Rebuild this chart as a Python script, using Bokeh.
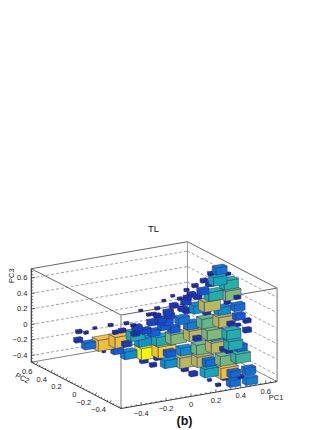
from bokeh.plotting import figure
from bokeh.embed import file_html
from bokeh.resources import INLINE
from bokeh.core.properties import value

TITLE = "TL"
PANEL = "(b)"
PC1_RANGE = (-0.562, 0.692)
PC2_RANGE = (-0.552, 0.668)
PC3_RANGE = (-0.486, 0.72)
PC1_TICKS = [-0.4, -0.2, 0, 0.2, 0.4, 0.6]
PC2_TICKS = [-0.4, -0.2, 0, 0.2, 0.4, 0.6]
PC3_TICKS = [-0.4, -0.2, 0, 0.2, 0.4, 0.6]
BIN = (0.145, 0.09, 0.15)

# boxes
pc1 = [.598,.538,.637,.565,.477,.618,.417,.507,.355,.445,.602,.501,.262,.371,.402,.343,.632,.295,.321,.564,.197,.451,.241,.614,
       .285,.138,.375,.518,.041,.308,.416,.196,.076,.110,.593,.126,.194,.394,.502,.634,.255,.165,.529,.079,-.074,.128,.298,-.172,-.038,-.269,.138,
       .020,-.025,.188,.611,.569,-.374,-.334,-.162,-.120,.062,-.049,-.049,.295,.402,.411,.509,.176,.299,.085,-.397,-.151,-.024,-.256,-.127,.494,
       -.349,.395,.529,.304,.430,.453,-.196,.197,.078,-.026,-.274,.106,-.138,.506,.412,.020,.276,.172,-.065,.077,-.020,.152,.524,.393,.289,.313,.428,.191,.458,.361,.505,.268,.401,.308]
pc2 = [.07,.09,.02,.04,.08,-.02,.10,.05,.11,.04,-.07,-.01,.14,.07,.04,.08,-.11,.10,.06,-.09,.15,-.04,.09,-.15,
       .05,.14,-.01,-.10,.20,.02,-.06,.09,.15,.14,-.20,.12,.07,-.10,-.15,-.24,0,.05,-.20,.11,.20,.08,-.05,.25,.17,.30,.05,
       .10,.14,0,-.28,-.23,.34,.31,.20,.18,.06,.12,.12,-.10,-.16,-.19,-.24,-.05,-.13,0,.31,.15,.06,.20,.11,-.29,
       .25,-.23,-.33,-.18,-.27,-.30,.12,-.13,-.05,0,.17,-.08,.06,-.37,-.32,-.06,-.24,-.18,-.02,-.12,-.07,-.21,-.45,-.37,-.31,-.27,-.41,-.26,-.45,-.40,-.50,-.35,-.45,-.40]
pc3 = [.681,.637,.639,.575,.568,.544,.510,.531,.465,.461,.439,.425,.400,.422,.401,.386,.403,.376,.344,.347,.352,.325,.306,.308,
       .274,.275,.286,.270,.243,.257,.244,.232,.206,.210,.214,.194,.200,.150,.165,.165,.165,.139,.136,.125,.111,.157,.114,.090,.089,.054,.087,
       .039,.071,.064,.071,.123,.018,.007,.019,.039,.026,.010,-.004,.022,.031,.009,.039,-.016,-.024,-.046,-.068,-.058,-.067,-.092,-.096,-.072,
       -.116,-.096,-.104,-.121,-.129,-.143,-.165,-.148,-.152,-.166,-.184,-.184,-.197,-.200,-.228,-.235,-.239,-.253,-.265,-.281,-.308,-.344,-.337,-.354,-.359,-.265,-.372,-.387,-.405,-.420,-.436,-.447,-.463,-.495]
content = [.22,.02,.01,.42,.03,.48,.02,.05,.01,.12,.62,.47,.005,.05,.05,.04,.02,.01,.08,.02,.005,.72,.05,.2,
           .05,.01,.33,.3,.005,.06,.04,.08,.01,.01,.14,.03,.08,.58,.72,.04,.22,.12,.04,.09,.01,.1,.25,.01,.01,.005,.14,
           .1,.08,.14,.05,.01,.02,.008,.02,.03,.15,.05,.45,.72,.62,.3,.47,.62,.05,.45,.05,.85,.33,.85,.07,.47,
           .2,.72,.17,.6,.04,.04,.14,.3,.9,1.0,.004,.14,.3,.52,.6,.03,.72,.72,.05,.32,.03,.03,.2,.85,.42,.2,.18,.05,.02,.03,.25,.006,.2,.012]

PALETTE = [(26,26,166),(15,92,221),(20,129,214),(6,164,202),(46,183,164),(135,191,119),(209,187,89),(254,200,50),(249,251,14)]


def px(a, b):
    return 149.9 + 124.5 * a - 73.5 * b


def py(a, b, c):
    return 337.3 - 21.5 * a - 38.0 * b - 77.5 * c


def colour(v, k=1.0):
    t = min(max(v, 0), 1) * (len(PALETTE) - 1)
    i = min(int(t), len(PALETTE) - 2)
    f = t - i
    r = [(PALETTE[i][n] * (1 - f) + PALETTE[i + 1][n] * f) * k for n in range(3)]
    return "#%02x%02x%02x" % tuple(int(x) for x in r)


p = figure(width=332, height=430, x_range=(0, 332), y_range=(430, 0), toolbar_location=None,
           output_backend="svg", min_border=0, outline_line_color=None)
p.axis.visible = False
p.grid.visible = False
p.background_fill_color = "white"
p.border_fill_color = "white"


def seg(points, color, width, dash="solid"):
    p.line([px(a, b) for a, b, c in points], [py(a, b, c) for a, b, c in points],
           line_color=color, line_width=width, line_dash=dash)


a0, a1 = PC1_RANGE
b0, b1 = PC2_RANGE
c0, c1 = PC3_RANGE

for z in PC3_TICKS:
    seg([(a0, b1, z), (a1, b1, z)], "#8c8c8c", 0.8, "3 2")
    seg([(a1, b1, z), (a1, b0, z)], "#8c8c8c", 0.8, "3 2")

seg([(a0, b1, c0), (a1, b1, c0), (a1, b0, c0)], "#666666", 0.8)
seg([(a0, b1, c0), (a0, b1, c1), (a1, b1, c1), (a1, b0, c1), (a0, b0, c1), (a0, b1, c1)], "#555555", 0.9)
seg([(a1, b1, c0), (a1, b1, c1)], "#999999", 1.0)
seg([(a0, b0, c0), (a0, b0, c1)], "#a0a0a0", 1.4)
seg([(a1, b0, c0), (a1, b0, c1)], "#999999", 1.4)
seg([(a0, b1, c0), (a0, b1, c1)], "#444444", 1.0)
seg([(a0, b1, c0), (a0, b0, c0), (a1, b0, c0)], "#222222", 0.9)

# axis ticks
xs, ys = [], []
v = -0.56
while v < 0.69:
    major = abs(round(v / 0.2) * 0.2 - v) < 1e-6
    L = 0.04 if major else 0.02
    xs.append([px(v, b0), px(v, b0)])
    ys.append([py(v, b0, c0), py(v, b0, c0 + L)])
    v += 0.04
v = -0.52
while v < 0.66:
    major = abs(round(v / 0.2) * 0.2 - v) < 1e-6
    L = 1.0 if major else 0.5
    xs.append([px(a0, v), px(a0 + 0.012 * L, v)])
    ys.append([py(a0, v, c0), py(a0 + 0.012 * L, v, c0 + 0.03 * L)])
    v += 0.04
v = -0.48
while v < 0.72:
    major = abs(round(v / 0.2) * 0.2 - v) < 1e-6
    L = 0.03 if major else 0.015
    xs.append([px(a0, b1), px(a0 + L, b1)])
    ys.append([py(a0, b1, v), py(a0 + L, b1, v)])
    v += 0.04
p.multi_line(xs, ys, line_color="#333333", line_width=0.7)

# boxes: lowest on the page first, and the larger boxes before the smaller ones
order = sorted(range(len(pc1)), key=lambda i: -py(pc1[i], pc2[i], pc3[i]) - 7 * content[i])
fx, fy, fc = [], [], []
for i in order:
    a, b, c, w = pc1[i], pc2[i], pc3[i], content[i]
    s = w ** (1 / 3)
    da, db, dc = BIN[0] * s / 2, BIN[1] * s / 2, BIN[2] * s / 2
    top = [(a - da, b - db, c + dc), (a + da, b - db, c + dc), (a + da, b + db, c + dc), (a - da, b + db, c + dc)]
    front = [(a - da, b - db, c - dc), (a + da, b - db, c - dc), (a + da, b - db, c + dc), (a - da, b - db, c + dc)]
    left = [(a - da, b + db, c - dc), (a - da, b - db, c - dc), (a - da, b - db, c + dc), (a - da, b + db, c + dc)]
    for face, k in ((left, 0.94), (front, 0.98), (top, 1.0)):
        fx.append([px(q[0], q[1]) for q in face])
        fy.append([py(q[0], q[1], q[2]) for q in face])
        fc.append(colour(w, k))
p.patches(fx, fy, fill_color=fc, line_color="#2c2c70", line_width=0.5)

FONT = value("Liberation Sans")


def labels(x, y, text, size="7.5px", align="center", xo=0, yo=0, angle=0, style="normal", color="#222222"):
    p.text(x, y, text=text, text_font=FONT, text_font_size=size, text_align=align,
           text_baseline="middle", x_offset=xo, y_offset=yo, angle=angle, text_color=color,
           text_font_style=style)


def fmt(v):
    return "0" if v == 0 else ("%.1f" % abs(v) if v > 0 else "\u2212%.1f" % abs(v))


labels([px(v, b0) for v in PC1_TICKS], [py(v, b0, c0) for v in PC1_TICKS], [fmt(v) for v in PC1_TICKS], yo=8)
labels([px(a0, v) for v in PC2_TICKS], [py(a0, v, c0) for v in PC2_TICKS], [fmt(v) for v in PC2_TICKS],
       align="right", xo=-4, yo=7)
labels([px(a0, b1)] * 6, [py(a0, b1, v) for v in PC3_TICKS], [fmt(v) for v in PC3_TICKS], align="right", xo=-4)
labels([px(a1, b0)], [py(a1, b0, c0)], ["PC1"], yo=16, xo=-1)
labels([px(a0, b1)], [py(a0, b1, c1)], ["PC3"], xo=-20, yo=7, angle=1.5708)
labels([px(a0, b1)], [py(a0, b1, c0)], ["PC2"], xo=-9, yo=16, angle=-0.47)
labels([153], [228], [TITLE], size="9.5px", color="#111111")
labels([184], [420], [PANEL], size="12.5px", style="bold", color="#111111")

open("out.html", "w").write(file_html(p, INLINE))
